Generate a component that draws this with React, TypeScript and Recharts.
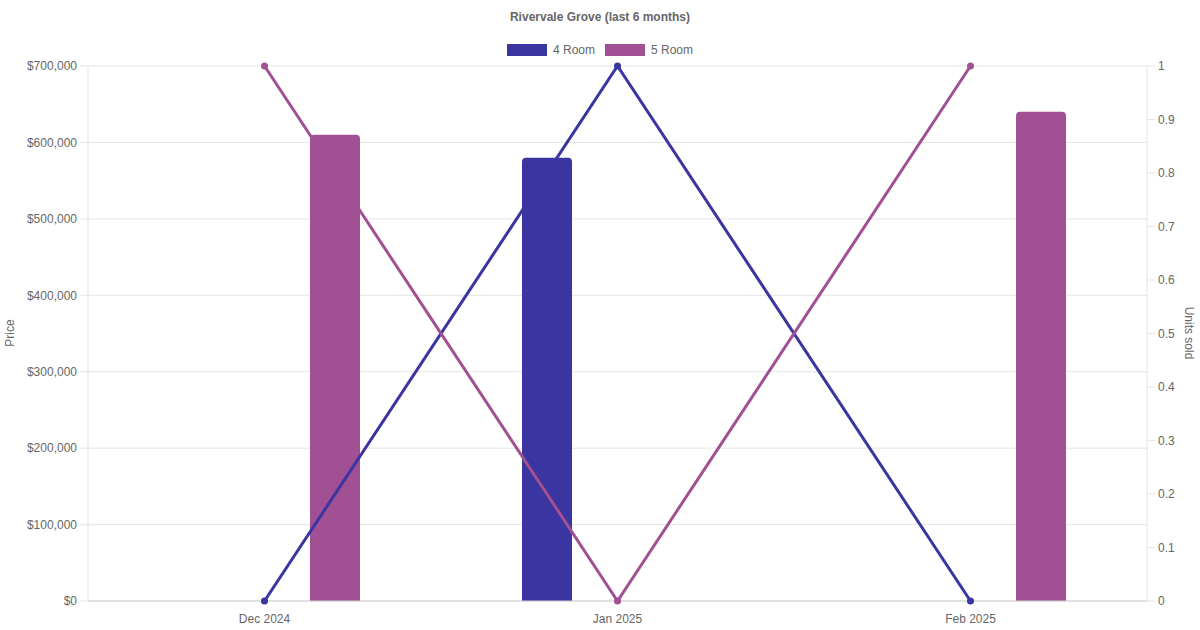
import React from 'react';
import { ComposedChart, Bar, Line, XAxis, YAxis, CartesianGrid } from 'recharts';

const categories = ['Dec 2024', 'Jan 2025', 'Feb 2025'];
const price4Room: (number | null)[] = [null, 580000, null];
const price5Room: (number | null)[] = [610000, null, 640000];
const units4Room = [0, 1, 0];
const units5Room = [1, 0, 1];
const priceTicks = [0, 100000, 200000, 300000, 400000, 500000, 600000, 700000];
const unitTicks = [0, 0.1, 0.2, 0.3, 0.4, 0.5, 0.6, 0.7, 0.8, 0.9, 1];

const COLOR_4 = '#3a35a0';
const COLOR_5 = '#a05093';
const FONT = '"Liberation Sans", Arial, Helvetica, sans-serif';
const TEXT = '#666';

const data = categories.map((month, i) => ({
  month,
  price4: price4Room[i],
  price5: price5Room[i],
  units4: units4Room[i],
  units5: units5Room[i],
}));

const tickStyle = { fill: TEXT, fontSize: 12, fontFamily: FONT };

export default function App() {
  return (
    <div style={{ position: 'absolute', left: 0, top: 0, width: 1200, height: 630, background: '#fff', fontFamily: FONT }}>
      <div style={{ position: 'absolute', left: 0, top: 9, width: 1200, textAlign: 'center', fontSize: 12, fontWeight: 'bold', color: TEXT, lineHeight: '16px' }}>
        Rivervale Grove (last 6 months)
      </div>
      <div style={{ position: 'absolute', left: 0, top: 44, width: 1200, display: 'flex', justifyContent: 'center', alignItems: 'center', fontSize: 12, color: TEXT, height: 12 }}>
        <div style={{ display: 'flex', alignItems: 'center', marginRight: 10 }}>
          <span style={{ display: 'inline-block', width: 40, height: 12, background: COLOR_4, marginRight: 6 }} />
          <span>4 Room</span>
        </div>
        <div style={{ display: 'flex', alignItems: 'center' }}>
          <span style={{ display: 'inline-block', width: 40, height: 12, background: COLOR_5, marginRight: 6 }} />
          <span>5 Room</span>
        </div>
      </div>
      <div style={{ position: 'absolute', left: 10, top: 333, transform: 'translate(-50%, -50%) rotate(-90deg)', fontSize: 12, color: TEXT, whiteSpace: 'nowrap' }}>
        Price
      </div>
      <div style={{ position: 'absolute', left: 1189, top: 333, transform: 'translate(-50%, -50%) rotate(90deg)', fontSize: 12, color: TEXT, whiteSpace: 'nowrap' }}>
        Units sold
      </div>
      <ComposedChart
        width={1200}
        height={630}
        data={data}
        margin={{ top: 66, right: 0, bottom: 0, left: 0 }}
        barGap={91}
        style={{ fontFamily: FONT }}
      >
        <CartesianGrid yAxisId="left" vertical={false} stroke="#e5e5e5" />
        <XAxis
          dataKey="month"
          height={29}
          tickLine={false}
          tickSize={8}
          tickMargin={5}
          axisLine={{ stroke: '#d0d0d0' }}
          tick={tickStyle}
          interval={0}
        />
        <YAxis
          yAxisId="left"
          orientation="left"
          width={88}
          domain={[0, 700000]}
          ticks={priceTicks}
          tickFormatter={(v: number) => '$' + v.toLocaleString('en-US')}
          tick={tickStyle}
          tickSize={8}
          tickMargin={3}
          tickLine={{ stroke: '#e5e5e5' }}
          axisLine={{ stroke: '#e5e5e5' }}
          allowDataOverflow
        />
        <YAxis
          yAxisId="right"
          orientation="right"
          width={53}
          domain={[0, 1]}
          ticks={unitTicks}
          tickFormatter={(v: number) => String(Number(v.toFixed(1)))}
          tick={tickStyle}
          tickSize={8}
          tickMargin={3}
          tickLine={{ stroke: '#e5e5e5' }}
          axisLine={{ stroke: '#e5e5e5' }}
        />
        <Bar yAxisId="left" dataKey="price4" fill={COLOR_4} barSize={50} radius={[4, 4, 0, 0]} isAnimationActive={false} />
        <Bar yAxisId="left" dataKey="price5" fill={COLOR_5} barSize={50} radius={[4, 4, 0, 0]} isAnimationActive={false} />
        <Line
          yAxisId="right"
          type="linear"
          dataKey="units4"
          stroke={COLOR_4}
          strokeWidth={3}
          dot={{ r: 3.5, fill: COLOR_4, stroke: COLOR_4, strokeWidth: 0 }}
          activeDot={false}
          isAnimationActive={false}
        />
        <Line
          yAxisId="right"
          type="linear"
          dataKey="units5"
          stroke={COLOR_5}
          strokeWidth={3}
          dot={{ r: 3.5, fill: COLOR_5, stroke: COLOR_5, strokeWidth: 0 }}
          activeDot={false}
          isAnimationActive={false}
        />
      </ComposedChart>
    </div>
  );
}
